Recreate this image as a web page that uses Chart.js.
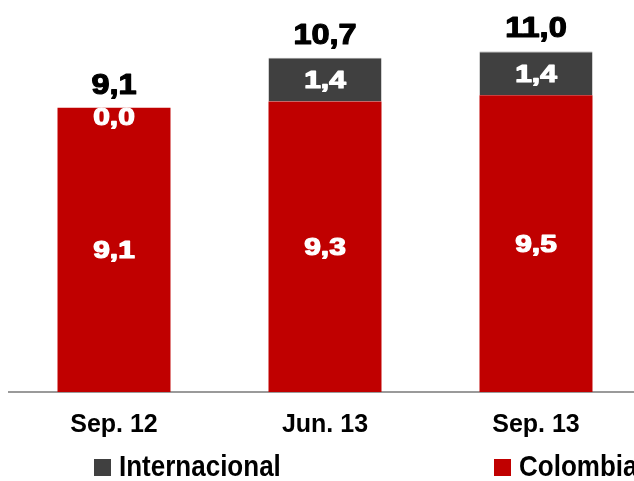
<!DOCTYPE html>
<html>
<head>
<meta charset="utf-8">
<script src="https://cdn.jsdelivr.net/npm/chart.js@4.4.0/dist/chart.umd.min.js"></script>
<style>
  html, body { margin: 0; padding: 0; background: #fff; }
  #wrap { position: relative; width: 634px; height: 481px; overflow: hidden; }
  #chart { position: absolute; left: 0; top: 0; }
  .lg { position: absolute; top: 451px; font: bold 26px "Liberation Sans", Arial, sans-serif; color: #000; white-space: nowrap; }
  .lg span { display: inline-block; transform: scaleY(1.1); }
  .lg i { display: inline-block; width: 17px; height: 17px; vertical-align: -1px; margin-right: 8px; }
</style>
</head>
<body>
<div id="wrap">
  <canvas id="chart" width="650" height="481"></canvas>
  <div class="lg" style="left:94px"><i style="background:#404040"></i><span>Internacional</span></div>
  <div class="lg" style="left:494px"><i style="background:#C00000"></i><span>Colombia</span></div>
</div>
<script>
  const labels = ['Sep. 12', 'Jun. 13', 'Sep. 13'];
  const colombia = [9.1, 9.3, 9.5];
  const internacional = [0.0, 1.4, 1.4];
  const totals = [9.1, 10.7, 11.0];

  const fmt = v => v.toFixed(1).replace('.', ',');

  // draws text a bit wider and heavier, like the original
  function heavyText(ctx, txt, x, y, sx, color) {
    ctx.save();
    ctx.translate(x, y);
    ctx.scale(sx, 1);
    ctx.fillStyle = color;
    ctx.strokeStyle = color;
    ctx.lineWidth = 1.2;
    ctx.lineJoin = 'round';
    ctx.fillText(txt, 0, 0);
    ctx.strokeText(txt, 0, 0);
    ctx.restore();
  }

  const labelPlugin = {
    id: 'valueLabels',
    afterDatasetsDraw(chart) {
      const ctx = chart.ctx;
      ctx.save();
      ctx.textAlign = 'center';
      ctx.textBaseline = 'middle';
      chart.data.datasets.forEach((ds, i) => {
        const meta = chart.getDatasetMeta(i);
        meta.data.forEach((bar, j) => {
          let y = (bar.y + bar.base) / 2;
          if (ds.data[j] === 0) y = bar.y + 9;
          ctx.font = 'bold 23px "Liberation Sans", Arial, sans-serif';
          heavyText(ctx, fmt(ds.data[j]), bar.x, y + 2, 1.3, '#fff');
        });
      });
      const top = chart.getDatasetMeta(chart.data.datasets.length - 1);
      top.data.forEach((bar, j) => {
        ctx.font = 'bold 29px "Liberation Sans", Arial, sans-serif';
        heavyText(ctx, fmt(totals[j]), bar.x, bar.y - 22, 1.12, '#000');
      });
      ctx.restore();
    }
  };

  new Chart(document.getElementById('chart'), {
    type: 'bar',
    data: {
      labels: labels,
      datasets: [
        { label: 'Colombia', data: colombia, backgroundColor: '#C00000',
          barPercentage: 1, categoryPercentage: 0.5355 },
        { label: 'Internacional', data: internacional, backgroundColor: '#404040',
          borderColor: '#8c8c8c', borderWidth: { top: 1 }, borderSkipped: 'start',
          barPercentage: 1, categoryPercentage: 0.5355 }
      ]
    },
    options: {
      responsive: false,
      animation: false,
      events: [],
      layout: { padding: { top: 17, left: 8.5, right: 8.5, bottom: 23 } },
      plugins: { legend: { display: false }, tooltip: { enabled: false } },
      scales: {
        x: {
          stacked: true,
          grid: { display: false, drawTicks: false },
          border: { display: true, color: '#9a9a9a', width: 2 },
          ticks: { padding: 18, color: '#000', font: { family: '"Liberation Sans", Arial, sans-serif', size: 25, weight: 'bold' } }
        },
        y: { stacked: true, display: false, min: 0, max: 12 }
      }
    },
    plugins: [labelPlugin]
  });
</script>
</body>
</html>
